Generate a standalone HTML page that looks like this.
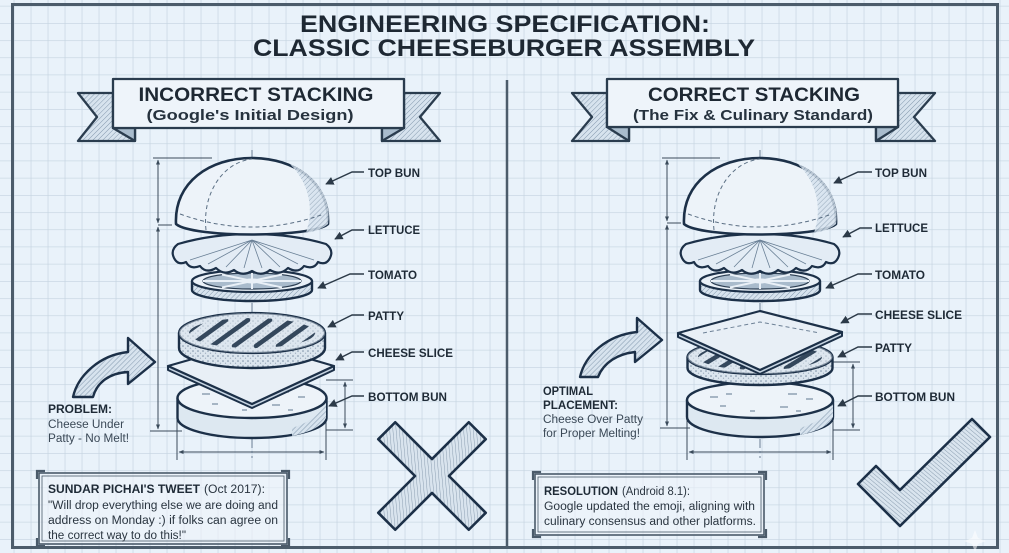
<!DOCTYPE html>
<html><head><meta charset="utf-8"><style>
html,body{margin:0;padding:0;width:1009px;height:553px;overflow:hidden;background:#e9f2fa}
svg{display:block}
text{font-family:"Liberation Sans",Arial,sans-serif}
</style></head><body>
<svg width="1009" height="553" viewBox="0 0 1009 553" xmlns="http://www.w3.org/2000/svg">
<defs>
<pattern id="grid" patternUnits="userSpaceOnUse" x="13.7" y="5.8" width="17" height="17.2">
 <path d="M0 0 V17.2 M0 0 H17" stroke="#c4d3e0" stroke-width="1.3" fill="none"/>
</pattern>
<pattern id="hatch" patternUnits="userSpaceOnUse" width="3.5" height="3.5" patternTransform="rotate(45)">
 <rect width="3.5" height="3.5" fill="#d7e3ee"/>
 <line x1="0" y1="0" x2="0" y2="3.5" stroke="#8499ae" stroke-width="1"/>
</pattern>
<pattern id="hatch2" patternUnits="userSpaceOnUse" width="3.2" height="3.2" patternTransform="rotate(-50)">
 <rect width="3.2" height="3.2" fill="#d9e4ee"/>
 <line x1="0" y1="0" x2="0" y2="3.2" stroke="#8a9db0" stroke-width="1"/>
</pattern>
<pattern id="dots" patternUnits="userSpaceOnUse" width="5" height="5">
 <rect width="5" height="5" fill="#dbe5ee"/>
 <circle cx="1" cy="1" r="0.8" fill="#7b8fa4"/><circle cx="3.5" cy="3.2" r="0.6" fill="#98a9bb"/>
</pattern>
<marker id="ah" viewBox="0 0 10 10" refX="9" refY="5" markerWidth="6" markerHeight="6" orient="auto"><path d="M0 0 L10 5 L0 10 Z" fill="#2c3a48"/></marker>
<marker id="dh" viewBox="0 0 10 10" refX="9" refY="5" markerWidth="5" markerHeight="5" orient="auto-start-reverse"><path d="M0 1 L10 5 L0 9 Z" fill="#3a4a5a"/></marker>
<clipPath id="pattyL"><ellipse cx="0" cy="333" rx="63" ry="15"/></clipPath>
<clipPath id="pattyR"><ellipse cx="0" cy="357" rx="62" ry="13"/></clipPath>
</defs>

<rect width="1009" height="553" fill="#e9f2fa"/>
<rect width="1009" height="553" fill="url(#grid)"/>

<rect x="12.5" y="4.5" width="985" height="543" fill="none" stroke="#4c5c6b" stroke-width="3"/>
<line x1="507" y1="80" x2="507" y2="547" stroke="#4c5c6b" stroke-width="2.5"/>

<text x="505" y="32" text-anchor="middle" font-size="24" font-weight="700" fill="#1e2833" textLength="410" lengthAdjust="spacingAndGlyphs">ENGINEERING SPECIFICATION:</text>
<text x="504" y="56" text-anchor="middle" font-size="24" font-weight="700" fill="#1e2833" textLength="502" lengthAdjust="spacingAndGlyphs">CLASSIC CHEESEBURGER ASSEMBLY</text>

<g stroke="#2a3c4e" stroke-width="2.3" stroke-linejoin="round">
 <polygon points="113,93 78,93 97,117 78,141 135,141 135,128 113,128" fill="url(#hatch)"/>
 <polygon points="113,128 135,128 135,141" fill="#a9bccd"/>
 <polygon points="404,93 440,93 420,117 440,141 382,141 382,128 404,128" fill="url(#hatch)"/>
 <polygon points="382,128 404,128 382,141" fill="#a9bccd"/>
 <rect x="113" y="79" width="291" height="49" fill="#eef4fa"/>
</g>
<text x="256" y="101" text-anchor="middle" font-size="19.5" font-weight="700" fill="#1e2833" textLength="235" lengthAdjust="spacingAndGlyphs">INCORRECT STACKING</text>
<text x="250" y="120" text-anchor="middle" font-size="15" font-weight="700" fill="#26323e" textLength="207" lengthAdjust="spacingAndGlyphs">(Google's Initial Design)</text>

<g stroke="#2a3c4e" stroke-width="2.3" stroke-linejoin="round">
 <polygon points="607,93 572,93 592,117 572,141 629,141 629,127 607,127" fill="url(#hatch)"/>
 <polygon points="607,127 629,127 629,141" fill="#a9bccd"/>
 <polygon points="898,93 935,93 914,117 935,141 876,141 876,127 898,127" fill="url(#hatch)"/>
 <polygon points="876,127 898,127 876,141" fill="#a9bccd"/>
 <rect x="607" y="79" width="291" height="48" fill="#eef4fa"/>
</g>
<text x="754" y="101" text-anchor="middle" font-size="19.5" font-weight="700" fill="#1e2833" textLength="212" lengthAdjust="spacingAndGlyphs">CORRECT STACKING</text>
<text x="753" y="120" text-anchor="middle" font-size="15" font-weight="700" fill="#26323e" textLength="240" lengthAdjust="spacingAndGlyphs">(The Fix &amp; Culinary Standard)</text>

<g fill="none" stroke="#3a4a5a" stroke-width="1">
 <line x1="153" y1="158" x2="212" y2="158"/>
 <line x1="150" y1="431" x2="182" y2="431"/>
 <line x1="158" y1="225" x2="172" y2="225"/>
 <line x1="158" y1="160" x2="158" y2="223" marker-start="url(#dh)" marker-end="url(#dh)"/>
 <line x1="158" y1="227" x2="158" y2="429" marker-start="url(#dh)" marker-end="url(#dh)"/>
 <line x1="177" y1="418" x2="177" y2="460"/>
 <line x1="326" y1="418" x2="326" y2="460"/>
 <line x1="179" y1="452" x2="324" y2="452" marker-start="url(#dh)" marker-end="url(#dh)"/>
 <line x1="326" y1="380" x2="353" y2="380"/>
 <line x1="326" y1="430" x2="353" y2="430"/>
 <line x1="345" y1="382" x2="345" y2="428" marker-start="url(#dh)" marker-end="url(#dh)"/>
</g>

<g transform="translate(252,0)" stroke="#1c3048" stroke-linejoin="round">
 <line x1="0" y1="150" x2="0" y2="458" stroke="#6a7f94" stroke-width="1" stroke-dasharray="9 3 2 3"/>
 <path d="M-74.5 398 V418 A74.5 20 0 0 0 74.5 418 V398 Z" fill="#dde8f1" stroke-width="2.4"/>
 <path d="M40 436 Q68 430 74 418 V402 Q66 420 40 428 Z" fill="url(#hatch)" stroke="none"/>
 <ellipse cx="0" cy="398" rx="74.5" ry="20" fill="#edf3f9" stroke-width="2.4"/>
 <path d="M-50 394 h8 M-34 391 h6 M28 392 h9 M46 397 h7 M-40 404 h6 M20 405 h8 M-10 410 h5 M36 410 h5" stroke="#7d90a4" stroke-width="1.2"/>
 <polygon points="-84,366 -84,370 0,408 82,370 82,366 0,404" fill="#c6d4e2" stroke-width="2"/>
 <polygon points="-84,366 0,342 82,366 0,404" fill="#e8eff6" stroke-width="2.2"/>
 <path d="M-73 333 V348 A73 20 0 0 0 73 348 V333 Z" fill="url(#dots)" stroke-width="2.4"/>
 <ellipse cx="0" cy="333" rx="73" ry="20" fill="#dfe7ef" stroke-width="2.2"/>
 <ellipse cx="0" cy="333" rx="73" ry="20" fill="url(#dots)" opacity="0.5" stroke="none"/>
 <g clip-path="url(#pattyL)" stroke="#34475c" stroke-width="4.5" stroke-linecap="round">
  <path d="M-84 346 L-48 320 M-62 346 L-26 320 M-40 346 L-4 320 M-18 346 L18 320 M4 346 L40 320 M26 346 L62 320 M48 346 L84 320"/>
 </g>
 <path d="M-60 281 V290 A60 11 0 0 0 60 290 V281 Z" fill="url(#hatch)" stroke-width="2.4"/>
 <ellipse cx="0" cy="281" rx="60" ry="11" fill="#e9f0f7" stroke-width="2.2"/>
 <ellipse cx="0" cy="281" rx="49" ry="8" fill="#a9bbcc" stroke="#2c3e52" stroke-width="1.2"/>
 <path d="M0 281 L-49 281 M0 281 L49 281 M0 281 L-30 274.5 M0 281 L30 274.5 M0 281 L-30 287.5 M0 281 L30 287.5 M0 281 L0 273 M0 281 L0 289" stroke="#e9f0f7" stroke-width="2"/>
 <ellipse cx="0" cy="281" rx="9" ry="2.5" fill="#e9f0f7" stroke="none"/>
 <path d="M-74,244 Q-82,250 -78,258 Q-74,266 -66,262 Q-62,270 -52,266 Q-46,274 -36,268 Q-28,276 -18,270 Q-10,277 0,271 Q10,277 18,270 Q28,276 36,268 Q46,274 52,266 Q62,270 66,262 Q74,266 78,258 Q82,250 74,244 Q40,234 0,234 Q-40,234 -74,244 Z" fill="#e3ecf5" stroke-width="2.2"/>
 <path d="M0,240 L-62,260 M0,240 L-44,264 M0,240 L-26,267 M0,240 L-8,268 M0,240 L10,268 M0,240 L28,267 M0,240 L46,264 M0,240 L62,260" stroke="#6a8096" stroke-width="0.8"/>
 <path d="M-76,224 C-78,182 -42,158 0,158 C42,158 78,182 76,224 C60,238 -60,238 -76,224 Z" fill="#edf3f9" stroke-width="2.6"/>
 <path d="M38,164 C66,176 80,200 76,224 C70,229 62,232 54,233 C62,210 58,184 38,164 Z" fill="url(#hatch)" stroke="none" opacity="0.85"/>
 <path d="M-72,214 Q0,240 72,214 M-46,230 C-50,192 -28,162 0,159" fill="none" stroke="#5b6f84" stroke-width="1" stroke-dasharray="4 3"/>
</g>

<g fill="none" stroke="#2c3a48" stroke-width="1.4">
 <path d="M364 172 L352 172 L326 184" marker-end="url(#ah)"/>
 <path d="M364 230 L352 230 L335 239" marker-end="url(#ah)"/>
 <path d="M364 274 L350 274 L318 288" marker-end="url(#ah)"/>
 <path d="M364 315 L352 315 L328 327" marker-end="url(#ah)"/>
 <path d="M364 352 L352 352 L336 360" marker-end="url(#ah)"/>
 <path d="M364 396 L352 396 L329 406" marker-end="url(#ah)"/>
</g>
<g font-size="12" font-weight="700" fill="#1e2a36">
 <text x="368" y="177" textLength="52" lengthAdjust="spacingAndGlyphs">TOP BUN</text>
 <text x="368" y="234" textLength="52" lengthAdjust="spacingAndGlyphs">LETTUCE</text>
 <text x="368" y="279" textLength="49" lengthAdjust="spacingAndGlyphs">TOMATO</text>
 <text x="368" y="320" textLength="36" lengthAdjust="spacingAndGlyphs">PATTY</text>
 <text x="368" y="357" textLength="85" lengthAdjust="spacingAndGlyphs">CHEESE SLICE</text>
 <text x="368" y="401" textLength="79" lengthAdjust="spacingAndGlyphs">BOTTOM BUN</text>
</g>

<path d="M73 397 C78 375 100 355 128 352 L128 338 L155 362 L128 384 L128 372 C110 373 97 382 93 397 Z" fill="url(#hatch)" stroke="#1c3048" stroke-width="2.4" stroke-linejoin="round"/>
<text x="48" y="413" font-size="11.5" font-weight="700" fill="#1e2a36" textLength="64" lengthAdjust="spacingAndGlyphs">PROBLEM:</text>
<text x="48" y="428" font-size="11.5" fill="#3a4856" textLength="76" lengthAdjust="spacingAndGlyphs">Cheese Under</text>
<text x="48" y="442" font-size="11.5" fill="#3a4856" textLength="81" lengthAdjust="spacingAndGlyphs">Patty - No Melt!</text>

<g fill="none" stroke="#3a4a5a" stroke-width="1">
 <line x1="662" y1="158" x2="720" y2="158"/>
 <line x1="660" y1="428" x2="690" y2="428"/>
 <line x1="667" y1="223" x2="681" y2="223"/>
 <line x1="667" y1="160" x2="667" y2="221" marker-start="url(#dh)" marker-end="url(#dh)"/>
 <line x1="667" y1="225" x2="667" y2="426" marker-start="url(#dh)" marker-end="url(#dh)"/>
 <line x1="687" y1="418" x2="687" y2="460"/>
 <line x1="833" y1="418" x2="833" y2="460"/>
 <line x1="689" y1="452" x2="831" y2="452" marker-start="url(#dh)" marker-end="url(#dh)"/>
 <line x1="833" y1="362" x2="860" y2="362"/>
 <line x1="833" y1="430" x2="860" y2="430"/>
 <line x1="853" y1="364" x2="853" y2="428" marker-start="url(#dh)" marker-end="url(#dh)"/>
</g>

<g transform="translate(760,0)" stroke="#1c3048" stroke-linejoin="round">
 <line x1="0" y1="150" x2="0" y2="458" stroke="#6a7f94" stroke-width="1" stroke-dasharray="9 3 2 3"/>
 <path d="M-73 400 V417 A73 20 0 0 0 73 417 V400 Z" fill="#dde8f1" stroke-width="2.4"/>
 <path d="M40 435 Q68 429 73 417 V404 Q66 420 40 428 Z" fill="url(#hatch)" stroke="none"/>
 <ellipse cx="0" cy="400" rx="73" ry="18" fill="#edf3f9" stroke-width="2.4"/>
 <path d="M-50 397 h8 M-34 394 h6 M28 394 h9 M46 399 h7 M-40 406 h6 M20 407 h8 M-10 411 h5 M36 411 h5" stroke="#7d90a4" stroke-width="1.2"/>
 <path d="M-72.5 357 V368 A72.5 17 0 0 0 72.5 368 V357 Z" fill="url(#dots)" stroke-width="2.4"/>
 <ellipse cx="0" cy="357" rx="72.5" ry="17" fill="#dfe7ef" stroke-width="2.2"/>
 <ellipse cx="0" cy="357" rx="72.5" ry="17" fill="url(#dots)" opacity="0.5" stroke="none"/>
 <g clip-path="url(#pattyR)" stroke="#34475c" stroke-width="4.5" stroke-linecap="round">
  <path d="M-84 368 L-48 346 M-62 368 L-26 346 M-40 368 L-4 346 M-18 368 L18 346 M4 368 L40 346 M26 368 L62 346 M48 368 L84 346"/>
 </g>
 <polygon points="-82,333 -82,337 0,374 82,336 82,332 0,370" fill="#c6d4e2" stroke-width="2"/>
 <polygon points="-82,333 0,311 82,332 0,370" fill="#e8eff6" stroke-width="2.2"/>
 <path d="M-57 333 L0 322 L60 333" fill="none" stroke="#6d8196" stroke-width="1" stroke-dasharray="4 3"/>
 <path d="M-60 281 V290 A60 11 0 0 0 60 290 V281 Z" fill="url(#hatch)" stroke-width="2.4"/>
 <ellipse cx="0" cy="281" rx="60" ry="11" fill="#e9f0f7" stroke-width="2.2"/>
 <ellipse cx="0" cy="281" rx="49" ry="8" fill="#a9bbcc" stroke="#2c3e52" stroke-width="1.2"/>
 <path d="M0 281 L-49 281 M0 281 L49 281 M0 281 L-30 274.5 M0 281 L30 274.5 M0 281 L-30 287.5 M0 281 L30 287.5 M0 281 L0 273 M0 281 L0 289" stroke="#e9f0f7" stroke-width="2"/>
 <ellipse cx="0" cy="281" rx="9" ry="2.5" fill="#e9f0f7" stroke="none"/>
 <path d="M-74,244 Q-82,250 -78,258 Q-74,266 -66,262 Q-62,270 -52,266 Q-46,274 -36,268 Q-28,276 -18,270 Q-10,277 0,271 Q10,277 18,270 Q28,276 36,268 Q46,274 52,266 Q62,270 66,262 Q74,266 78,258 Q82,250 74,244 Q40,234 0,234 Q-40,234 -74,244 Z" fill="#e3ecf5" stroke-width="2.2"/>
 <path d="M0,240 L-62,260 M0,240 L-44,264 M0,240 L-26,267 M0,240 L-8,268 M0,240 L10,268 M0,240 L28,267 M0,240 L46,264 M0,240 L62,260" stroke="#6a8096" stroke-width="0.8"/>
 <path d="M-76,224 C-78,182 -42,158 0,158 C42,158 78,182 76,224 C60,238 -60,238 -76,224 Z" fill="#edf3f9" stroke-width="2.6"/>
 <path d="M38,164 C66,176 80,200 76,224 C70,229 62,232 54,233 C62,210 58,184 38,164 Z" fill="url(#hatch)" stroke="none" opacity="0.85"/>
 <path d="M-72,214 Q0,240 72,214 M-46,230 C-50,192 -28,162 0,159" fill="none" stroke="#5b6f84" stroke-width="1" stroke-dasharray="4 3"/>
</g>

<g fill="none" stroke="#2c3a48" stroke-width="1.4">
 <path d="M872 172 L858 172 L834 183" marker-end="url(#ah)"/>
 <path d="M872 228 L860 228 L843 237" marker-end="url(#ah)"/>
 <path d="M872 274 L858 274 L826 288" marker-end="url(#ah)"/>
 <path d="M872 314 L858 314 L841 323" marker-end="url(#ah)"/>
 <path d="M872 347 L858 347 L838 357" marker-end="url(#ah)"/>
 <path d="M872 396 L858 396 L838 406" marker-end="url(#ah)"/>
</g>
<g font-size="12" font-weight="700" fill="#1e2a36">
 <text x="875" y="177" textLength="52" lengthAdjust="spacingAndGlyphs">TOP BUN</text>
 <text x="875" y="232" textLength="53" lengthAdjust="spacingAndGlyphs">LETTUCE</text>
 <text x="875" y="279" textLength="50" lengthAdjust="spacingAndGlyphs">TOMATO</text>
 <text x="875" y="319" textLength="87" lengthAdjust="spacingAndGlyphs">CHEESE SLICE</text>
 <text x="875" y="352" textLength="37" lengthAdjust="spacingAndGlyphs">PATTY</text>
 <text x="875" y="401" textLength="80" lengthAdjust="spacingAndGlyphs">BOTTOM BUN</text>
</g>

<path d="M580 377 C585 355 607 335 637 332 L637 318 L662 340 L635 362 L635 352 C618 354 604 362 598 377 Z" fill="url(#hatch)" stroke="#1c3048" stroke-width="2.4" stroke-linejoin="round"/>
<text x="543" y="395" font-size="11.5" font-weight="700" fill="#1e2a36" textLength="50" lengthAdjust="spacingAndGlyphs">OPTIMAL</text>
<text x="543" y="409" font-size="11.5" font-weight="700" fill="#1e2a36" textLength="75" lengthAdjust="spacingAndGlyphs">PLACEMENT:</text>
<text x="543" y="423" font-size="11.5" fill="#3a4856" textLength="100" lengthAdjust="spacingAndGlyphs">Cheese Over Patty</text>
<text x="543" y="437" font-size="11.5" fill="#3a4856" textLength="97" lengthAdjust="spacingAndGlyphs">for Proper Melting!</text>

<g fill="none" stroke="#4a5a6a">
 <rect x="39" y="473" width="248" height="71" fill="#eef4fa" fill-opacity="0.6" stroke-width="1.6"/>
 <rect x="42" y="476" width="242" height="65" stroke-width="0.8"/>
 <path d="M37 479 V471 H45 M281 471 H289 V479 M289 538 V546 H281 M45 546 H37 V538" stroke-width="2.2"/>
</g>
<text x="48" y="493" font-size="11.5" font-weight="700" fill="#1e2a36" textLength="152" lengthAdjust="spacingAndGlyphs">SUNDAR PICHAI'S TWEET</text>
<text x="204" y="493" font-size="11.5" fill="#2a3540" textLength="61" lengthAdjust="spacingAndGlyphs">(Oct 2017):</text>
<text x="48" y="509" font-size="11.5" fill="#2a3540" textLength="230" lengthAdjust="spacingAndGlyphs">"Will drop everything else we are doing and</text>
<text x="48" y="524" font-size="11.5" fill="#2a3540" textLength="230" lengthAdjust="spacingAndGlyphs">address on Monday :) if folks can agree on</text>
<text x="48" y="539" font-size="11.5" fill="#2a3540" textLength="138" lengthAdjust="spacingAndGlyphs">the correct way to do this!"</text>

<g fill="none" stroke="#4a5a6a">
 <rect x="535" y="474" width="229" height="61" fill="#eef4fa" fill-opacity="0.6" stroke-width="1.6"/>
 <rect x="538" y="477" width="223" height="55" stroke-width="0.8"/>
 <path d="M533 480 V472 H541 M758 472 H766 V480 M766 529 V537 H758 M541 537 H533 V529" stroke-width="2.2"/>
</g>
<text x="544" y="495" font-size="11.5" font-weight="700" fill="#1e2a36" textLength="74" lengthAdjust="spacingAndGlyphs">RESOLUTION</text>
<text x="622" y="495" font-size="11.5" fill="#2a3540" textLength="68" lengthAdjust="spacingAndGlyphs">(Android 8.1):</text>
<text x="544" y="510" font-size="11.5" fill="#2a3540" textLength="211" lengthAdjust="spacingAndGlyphs">Google updated the emoji, aligning with</text>
<text x="544" y="525" font-size="11.5" fill="#2a3540" textLength="212" lengthAdjust="spacingAndGlyphs">culinary consensus and other platforms.</text>

<g transform="translate(432,476) rotate(45)">
 <polygon points="-12,-64 12,-64 12,-12 64,-12 64,12 12,12 12,64 -12,64 -12,12 -64,12 -64,-12 -12,-12" fill="url(#hatch2)" stroke="#1c3048" stroke-width="2.6" stroke-linejoin="round"/>
</g>

<polygon points="858,484 876,466 900,490 972,419 990,437 900,526" fill="url(#hatch2)" stroke="#1c3048" stroke-width="2.6" stroke-linejoin="round"/>

<path d="M975 530 L978 538 L986 541 L978 544 L975 552 L972 544 L964 541 L972 538 Z" fill="#ffffff" opacity="0.55"/>
</svg>
</body></html>
